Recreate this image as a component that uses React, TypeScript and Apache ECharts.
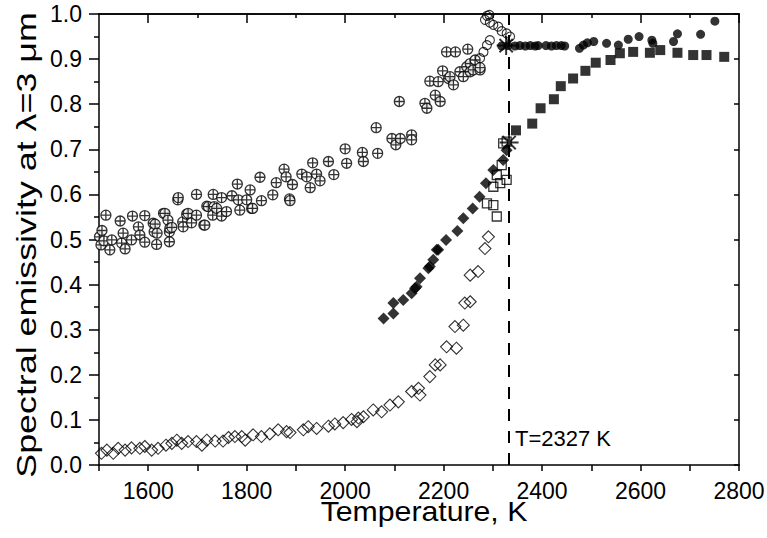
import React, { useEffect, useRef } from "react";
import * as echarts from "echarts";

const FONT = '"Liberation Sans", Arial, sans-serif';

// [temperature K, emissivity]
const crossCircleData: number[][] = [
  [1501, 0.506], [1504, 0.488], [1506, 0.52], [1510, 0.497], [1514, 0.554], [1522, 0.477], [1526, 0.499],
  [1543, 0.541], [1546, 0.492], [1549, 0.514], [1553, 0.479], [1566, 0.499], [1568, 0.552], [1580, 0.528],
  [1583, 0.51], [1593, 0.494], [1593, 0.553], [1610, 0.536], [1612, 0.517], [1614, 0.534], [1617, 0.489],
  [1618, 0.514], [1631, 0.558], [1634, 0.558], [1640, 0.543], [1643, 0.517], [1643, 0.495], [1644, 0.525],
  [1648, 0.527], [1660, 0.588], [1661, 0.593], [1670, 0.539], [1671, 0.528], [1678, 0.556], [1681, 0.558],
  [1688, 0.537], [1698, 0.554], [1698, 0.6], [1713, 0.532], [1715, 0.532], [1719, 0.574], [1722, 0.573],
  [1731, 0.554], [1732, 0.6], [1734, 0.573], [1739, 0.569], [1749, 0.552], [1749, 0.593], [1759, 0.562],
  [1770, 0.597], [1781, 0.623], [1783, 0.588], [1786, 0.565], [1800, 0.588], [1807, 0.61], [1810, 0.569],
  [1812, 0.569], [1827, 0.638], [1830, 0.586], [1853, 0.599], [1860, 0.626], [1876, 0.656], [1880, 0.639],
  [1887, 0.59], [1888, 0.586], [1893, 0.622], [1912, 0.645], [1922, 0.639], [1929, 0.615], [1934, 0.67],
  [1942, 0.645], [1949, 0.63], [1966, 0.673], [1977, 0.644], [2000, 0.701], [2003, 0.669], [2035, 0.693],
  [2037, 0.673], [2063, 0.748], [2066, 0.691], [2095, 0.724], [2103, 0.71], [2110, 0.806], [2112, 0.724],
  [2135, 0.732], [2135, 0.721], [2162, 0.802], [2166, 0.791], [2172, 0.851], [2183, 0.82], [2189, 0.85],
  [2193, 0.806], [2198, 0.874], [2206, 0.916], [2210, 0.857], [2213, 0.861], [2220, 0.843], [2224, 0.916],
  [2233, 0.872], [2240, 0.861], [2247, 0.883], [2249, 0.922], [2254, 0.89], [2254, 0.872], [2260, 0.876],
  [2264, 0.898], [2274, 0.876], [2274, 0.881],
];

const openDiamondData: number[][] = [
  [1505, 0.026], [1516, 0.033], [1529, 0.026], [1539, 0.037], [1553, 0.033], [1566, 0.038], [1583, 0.037],
  [1593, 0.041], [1607, 0.033], [1620, 0.037], [1636, 0.044], [1648, 0.048], [1658, 0.055], [1668, 0.048],
  [1681, 0.052], [1698, 0.052], [1709, 0.044], [1719, 0.055], [1736, 0.053], [1752, 0.053], [1763, 0.061],
  [1776, 0.063], [1790, 0.063], [1797, 0.055], [1813, 0.067], [1830, 0.063], [1847, 0.069], [1864, 0.078],
  [1881, 0.074], [1888, 0.072], [1915, 0.078], [1925, 0.085], [1942, 0.081], [1966, 0.086], [1979, 0.091],
  [1996, 0.094], [2013, 0.101], [2024, 0.096], [2027, 0.104], [2037, 0.107], [2057, 0.122], [2074, 0.118],
  [2091, 0.133], [2108, 0.14], [2135, 0.163], [2149, 0.17], [2152, 0.155], [2172, 0.196], [2183, 0.222],
  [2193, 0.222], [2206, 0.262], [2226, 0.259], [2223, 0.307], [2240, 0.31], [2243, 0.359], [2254, 0.362],
  [2254, 0.421], [2270, 0.429], [2284, 0.48], [2291, 0.506],
];

const openCircleData: number[][] = [
  [2274, 0.902], [2281, 0.916], [2288, 0.931], [2294, 0.942], [2284, 0.987], [2288, 0.996], [2293, 0.998],
  [2294, 0.981], [2301, 0.976], [2311, 0.972], [2318, 0.962], [2328, 0.957], [2335, 0.95],
];

const filledDiamondData: number[][] = [
  [2078, 0.325], [2098, 0.336], [2098, 0.359], [2118, 0.366], [2135, 0.381], [2142, 0.392], [2145, 0.395],
  [2152, 0.414], [2169, 0.436], [2172, 0.44], [2179, 0.455], [2186, 0.477], [2189, 0.477], [2205, 0.499],
  [2228, 0.519], [2240, 0.547], [2259, 0.569], [2273, 0.595], [2286, 0.625], [2301, 0.654], [2321, 0.676],
  [2328, 0.698],
];

const openSquareData: number[][] = [
  [2288, 0.58], [2301, 0.576], [2301, 0.617], [2308, 0.551], [2308, 0.643], [2315, 0.625], [2318, 0.665],
  [2321, 0.713], [2328, 0.632], [2328, 0.717],
];

const filledSquareData: number[][] = [
  [2347, 0.742], [2380, 0.757], [2397, 0.791], [2424, 0.811], [2438, 0.84], [2463, 0.857], [2488, 0.874],
  [2509, 0.892], [2539, 0.898], [2558, 0.913], [2585, 0.916], [2619, 0.914], [2640, 0.92], [2675, 0.914],
  [2707, 0.909], [2734, 0.909], [2770, 0.905],
];

const filledCircleData: number[][] = [
  [2318, 0.929], [2331, 0.93], [2345, 0.929], [2355, 0.93], [2366, 0.929], [2376, 0.93], [2386, 0.929],
  [2392, 0.93], [2408, 0.93], [2419, 0.929], [2429, 0.93], [2439, 0.93], [2446, 0.929], [2476, 0.924],
  [2484, 0.931], [2492, 0.936], [2505, 0.939], [2531, 0.935], [2555, 0.931], [2575, 0.944], [2597, 0.95],
  [2623, 0.942], [2625, 0.935], [2667, 0.939], [2675, 0.956], [2722, 0.955], [2751, 0.984],
];

const starData: number[][] = [[2327, 0.93], [2333, 0.715]];

const transitionLineT = 2332;
const transitionLabel = "T=2327 K";

const X_MIN = 1500;
const X_MAX = 2800;
const topMajorTicks = [1600, 1800, 2000, 2200, 2400, 2600, 2800];
const topMinorTicks = [1700, 1900, 2100, 2300, 2500, 2700];

const xTitle = "Temperature, K";
const yTitle = "Spectral emissivity at λ=3 μm";

const CROSS_CIRCLE = "path://M0,5A5,5 0 1,0 10,5A5,5 0 1,0 0,5ZM5,0L5,10M0,5L10,5";
const ASTERISK = "path://M5,0L5,10M0,5L10,5M1.5,1.5L8.5,8.5M1.5,8.5L8.5,1.5";

export default function App() {
  const ref = useRef<HTMLDivElement>(null);
  useEffect(() => {
    if (!ref.current) return;
    const chart = echarts.init(ref.current, null, { renderer: "svg" });
    const mkLine = () => ({ show: true, onZero: false, lineStyle: { color: "#000", width: 1.5 } });
    const tickStyle = () => ({ color: "#000", width: 1.5 });
    const baseX = { type: "value", min: X_MIN, max: X_MAX, splitLine: { show: false } };
    const option: any = {
      animation: false,
      backgroundColor: "#fff",
      textStyle: { fontFamily: FONT },
      grid: { left: 99, right: 28, top: 14, bottom: 73, containLabel: false, outerBoundsMode: "none" },
      xAxis: [
        {
          ...baseX,
          position: "bottom",
          interval: 100,
          axisLine: mkLine(),
          axisTick: { show: true, inside: false, length: 6, lineStyle: tickStyle() },
          axisLabel: {
            formatter: (v: number) => (v % 200 === 0 ? String(v) : ""),
            fontSize: 23,
            color: "#000",
            margin: 14,
            fontFamily: FONT,
          },
        },
        {
          ...baseX,
          position: "top",
          axisLine: mkLine(),
          axisTick: { show: true, inside: true, length: 9, customValues: topMajorTicks, lineStyle: tickStyle() },
          axisLabel: { show: false },
        },
        {
          ...baseX,
          position: "top",
          axisLine: mkLine(),
          axisTick: { show: true, inside: true, length: 4, customValues: topMinorTicks, lineStyle: tickStyle() },
          axisLabel: { show: false },
        },
      ],
      yAxis: [
        {
          type: "value",
          position: "left",
          min: 0,
          max: 1,
          interval: 0.1,
          splitLine: { show: false },
          axisLine: mkLine(),
          axisTick: { show: true, inside: false, length: 10, lineStyle: tickStyle() },
          minorTick: { show: true, splitNumber: 2, length: 5, lineStyle: tickStyle() },
          axisLabel: {
            formatter: (v: number) => v.toFixed(1),
            fontSize: 23,
            color: "#000",
            margin: 17,
            fontFamily: FONT,
          },
        },
        {
          type: "value",
          position: "right",
          min: 0,
          max: 1,
          interval: 0.1,
          splitLine: { show: false },
          axisLine: mkLine(),
          axisTick: { show: true, inside: true, length: 5, lineStyle: tickStyle() },
          axisLabel: { show: false },
        },
      ],
      series: [
        {
          type: "scatter",
          data: crossCircleData,
          symbol: CROSS_CIRCLE,
          symbolSize: 10,
          itemStyle: { color: "#fff", borderColor: "#000", borderWidth: 1.3 },
        },
        {
          type: "scatter",
          data: openDiamondData,
          symbol: "diamond",
          symbolSize: 12,
          itemStyle: { color: "rgba(255,255,255,0)", borderColor: "#000", borderWidth: 1.1 },
        },
        {
          type: "scatter",
          data: openCircleData,
          symbol: "circle",
          symbolSize: 9,
          itemStyle: { color: "rgba(255,255,255,0)", borderColor: "#000", borderWidth: 1.1 },
        },
        {
          type: "scatter",
          data: filledDiamondData,
          symbol: "diamond",
          symbolSize: 12,
          itemStyle: { color: "#000" },
        },
        {
          type: "scatter",
          data: openSquareData,
          symbol: "rect",
          symbolSize: 9,
          itemStyle: { color: "rgba(255,255,255,0)", borderColor: "#000", borderWidth: 1.3 },
        },
        {
          type: "scatter",
          data: filledSquareData,
          symbol: "rect",
          symbolSize: 10,
          itemStyle: { color: "#000" },
          markLine: {
            silent: true,
            symbol: ["none", "none"],
            label: { show: false },
            lineStyle: { color: "#000", width: 2, type: [12, 10] },
            data: [{ xAxis: transitionLineT }],
          },
        },
        {
          type: "scatter",
          data: filledCircleData,
          symbol: "circle",
          symbolSize: 9,
          itemStyle: { color: "#000" },
        },
        {
          type: "scatter",
          data: starData,
          symbol: ASTERISK,
          symbolSize: 19,
          z: 5,
          itemStyle: { color: "rgba(0,0,0,0)", borderColor: "#000", borderWidth: 2 },
        },
      ],
      graphic: [
        {
          type: "text",
          x: 26,
          y: 245,
          rotation: Math.PI / 2,
          scaleX: 1.28,
          style: { text: yTitle, fontSize: 28, fontFamily: FONT, fill: "#000", align: "center", verticalAlign: "middle" },
        },
        {
          type: "text",
          x: 424,
          y: 511,
          scaleX: 1.08,
          style: { text: xTitle, fontSize: 28, fontFamily: FONT, fill: "#000", align: "center", verticalAlign: "middle" },
        },
        {
          type: "text",
          x: 515,
          y: 438,
          style: { text: transitionLabel, fontSize: 22, fontFamily: FONT, fill: "#000", align: "left", verticalAlign: "middle" },
        },
      ],
    };
    chart.setOption(option);
    return () => chart.dispose();
  }, []);
  return <div ref={ref} style={{ position: "absolute", left: 0, top: 0, width: 767, height: 538 }} />;
}
